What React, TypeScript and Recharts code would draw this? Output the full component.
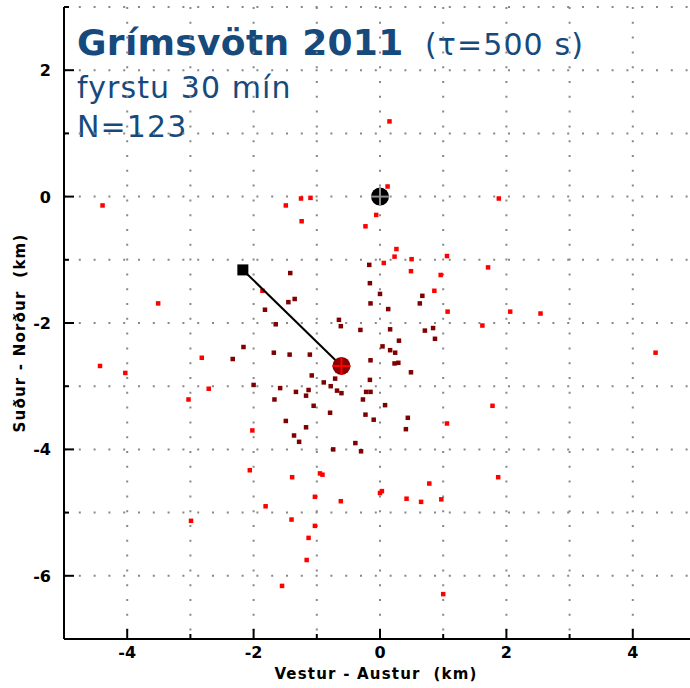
import React from 'react';
import { ScatterChart, Scatter, XAxis, YAxis, CartesianGrid } from 'recharts';

// map extent in km
const xTicks = [-5, -4, -3, -2, -1, 0, 1, 2, 3, 4, 5];
const yTicks = [-7, -6, -5, -4, -3, -2, -1, 0, 1, 2, 3];

// events shown in bright red (x east, y north, km)
const redEvents: [number, number][] = [
    [-4.39, -0.14], [-1.49, -0.14], [-1.25, -0.03], [-1.10, -0.02], [-1.24, -0.39],
    [-0.06, -0.29], [-0.23, -0.47], [-1.86, -1.49], [-3.51, -1.69], [0.15, 1.19],
    [0.12, 0.16], [1.88, -0.03], [0.26, -0.83], [0.23, -0.95], [0.50, -0.99],
    [0.06, -1.05], [1.06, -0.94], [1.71, -1.12], [0.49, -1.18], [0.96, -1.24],
    [0.86, -1.49], [1.07, -1.82], [2.06, -1.82], [2.54, -1.85], [1.62, -2.04],
    [4.36, -2.47], [1.78, -3.31], [1.06, -3.59], [1.87, -4.44], [0.78, -4.54],
    [0.03, -4.66], [0.00, -4.69], [0.42, -4.78], [0.65, -4.83], [0.97, -4.79],
    [1.00, -6.29], [-2.82, -2.55], [-4.43, -2.68], [-4.03, -2.79], [-2.71, -3.04],
    [-3.03, -3.21], [-2.02, -3.70], [-2.06, -4.33], [-1.39, -4.44], [-0.95, -4.38],
    [-0.91, -4.40], [-1.03, -4.75], [-0.62, -4.82], [-1.81, -4.90], [-2.99, -5.13],
    [-1.40, -5.11], [-1.03, -5.21], [-1.13, -5.40], [-1.16, -5.75], [-1.55, -6.16],
];

// events shown in dark red
const darkEvents: [number, number][] = [
    [-0.17, -1.08], [-0.16, -1.37], [0.00, -1.54], [-0.15, -1.69], [-1.42, -1.21],
    [-1.35, -1.62], [-1.45, -1.67], [-1.82, -1.79], [-1.65, -2.02], [-0.65, -1.95],
    [-0.62, -2.05], [-0.31, -2.11], [-2.16, -2.38], [0.67, -1.57], [0.63, -1.69],
    [0.13, -1.78], [0.16, -2.10], [0.71, -2.12], [0.84, -2.08], [0.30, -2.28],
    [0.87, -2.25], [0.04, -2.37], [0.16, -2.43], [0.24, -2.47], [-0.15, -2.59],
    [0.23, -2.64], [0.29, -2.63], [0.49, -2.78], [-0.16, -2.90], [-0.22, -3.09],
    [-0.15, -3.09], [0.08, -3.30], [-0.10, -3.53], [0.44, -3.50], [0.41, -3.68],
    [-2.33, -2.57], [-1.68, -2.47], [-1.43, -2.50], [-1.11, -2.50], [-1.08, -2.83],
    [-0.89, -2.94], [-0.71, -2.88], [-0.78, -3.00], [-2.00, -2.98], [-1.58, -3.03],
    [-1.33, -3.09], [-1.13, -3.06], [-0.68, -3.07], [-0.61, -3.11], [-1.67, -3.21],
    [-1.17, -3.15], [-0.27, -3.21], [-1.05, -3.31], [-0.79, -3.42], [-0.23, -3.45],
    [-1.49, -3.55], [-1.17, -3.65], [-1.36, -3.78], [-1.28, -3.88], [-0.39, -3.90],
    [-0.74, -4.00], [-0.30, -4.03],
];

const origin: [number, number] = [0, 0];
const trackStart: [number, number] = [-2.17, -1.16];
const centroid: [number, number] = [-0.61, -2.68];

const toPts = (arr: [number, number][]) => arr.map(([x, y]) => ({ x, y }));

const BLUE = '#174a7c';
const AXIS_FONT = '"DejaVu Sans", sans-serif';

const square = (size: number, fill: string) => (props: any) => (
    <rect x={props.cx - size / 2} y={props.cy - size / 2} width={size} height={size} fill={fill} />
);

const crossCircle = (fill: string, cross: string) => (props: any) => {
    const { cx, cy } = props;
    return (
        <g>
            <circle cx={cx} cy={cy} r={9} fill={fill} />
            <line x1={cx - 9} x2={cx + 9} y1={cy} y2={cy} stroke={cross} strokeWidth={2} />
            <line x1={cx} x2={cx} y1={cy - 9} y2={cy + 9} stroke={cross} strokeWidth={2} />
        </g>
    );
};

const BottomTick = (props: any) => {
    const { x, y, payload } = props;
    const v = payload.value;
    const major = v % 2 === 0;
    return (
        <g>
            <line x1={x} x2={x} y1={y} y2={y - (major ? 10 : 5)} stroke="#000" strokeWidth={2} />
            {major && (
                <text x={x} y={y + 19} textAnchor="middle" fontFamily={AXIS_FONT} fontSize={16} fontWeight="bold" fill="#000">
                    {v}
                </text>
            )}
        </g>
    );
};

const LeftTick = (props: any) => {
    const { x, y, payload } = props;
    const v = payload.value;
    const major = v % 2 === 0;
    return (
        <g>
            <line x1={x} x2={x + (major ? 10 : 5)} y1={y} y2={y} stroke="#000" strokeWidth={2} />
            {major && (
                <text x={x - 13} y={y + 6} textAnchor="end" fontFamily={AXIS_FONT} fontSize={16} fontWeight="bold" fill="#000">
                    {v}
                </text>
            )}
        </g>
    );
};

const TopTick = (props: any) => {
    const { x, y, payload } = props;
    if (payload.value % 2 !== 0) return <g />;
    return <line x1={x} x2={x} y1={y} y2={y + 12} stroke="#000" strokeWidth={2} />;
};

const RightTick = (props: any) => {
    const { x, y, payload } = props;
    if (payload.value % 2 !== 0) return <g />;
    return <line x1={x - 12} x2={x} y1={y} y2={y} stroke="#000" strokeWidth={2} />;
};

export default function App() {
    return (
        <div style={{ position: 'absolute', left: 0, top: 0, width: 690, height: 688, overflow: 'hidden', background: '#fff' }}>
            {/* titles sit under the chart so the grid dots run over them */}
            <svg width={690} height={688} style={{ position: 'absolute', left: 0, top: 0 }}>
                <text x={77} y={55} fontFamily={AXIS_FONT} fontSize={36} fontWeight="bold" letterSpacing={0.3} fill={BLUE}>
                    Grímsvötn 2011
                </text>
                <text x={425} y={55} fontFamily={AXIS_FONT} fontSize={30} letterSpacing={1.1} fill={BLUE}>
                    (τ=500 s)
                </text>
                <text x={77} y={98} fontFamily={AXIS_FONT} fontSize={30} letterSpacing={1.1} fill={BLUE}>
                    fyrstu 30 mín
                </text>
                <text x={77} y={137} fontFamily={AXIS_FONT} fontSize={30} letterSpacing={1.1} fill={BLUE}>
                    N=123
                </text>
                <text x={376} y={679} textAnchor="middle" fontFamily={AXIS_FONT} fontSize={15} fontWeight="bold" letterSpacing={1.2} fill="#000" style={{ whiteSpace: 'pre' }}>
                    {'Vestur - Austur  (km)'}
                </text>
                <text x={0} y={0} transform="translate(25 333) rotate(-90)" textAnchor="middle" fontFamily={AXIS_FONT} fontSize={15} fontWeight="bold" letterSpacing={1.2} fill="#000" style={{ whiteSpace: 'pre' }}>
                    {'Suður - Norður  (km)'}
                </text>
            </svg>
            <div style={{ position: 'absolute', left: 0, top: 0 }}>
                <ScatterChart width={700} height={688} margin={{ top: 7, right: 4, bottom: 0, left: 0 }}>
                    <CartesianGrid stroke="#888" strokeWidth={2} strokeDasharray="2 12.8" />
                    <XAxis
                        type="number" dataKey="x" domain={[-5, 5]} ticks={xTicks} interval={0}
                        allowDataOverflow height={49} tickSize={0} tickMargin={0}
                        axisLine={{ stroke: '#000', strokeWidth: 2 }} tickLine={false} tick={<BottomTick />}
                    />
                    <XAxis
                        xAxisId="top" orientation="top" type="number" dataKey="x" domain={[-5, 5]} ticks={xTicks}
                        interval={0} allowDataOverflow height={0} tickSize={0} tickMargin={0}
                        axisLine={{ stroke: '#000', strokeWidth: 2 }} tickLine={false} tick={<TopTick />}
                    />
                    <YAxis
                        type="number" dataKey="y" domain={[-7, 3]} ticks={yTicks} interval={0}
                        allowDataOverflow width={64} tickSize={0} tickMargin={0}
                        axisLine={{ stroke: '#000', strokeWidth: 2 }} tickLine={false} tick={<LeftTick />}
                    />
                    <YAxis
                        yAxisId="right" orientation="right" type="number" dataKey="y" domain={[-7, 3]} ticks={yTicks}
                        interval={0} allowDataOverflow width={0} tickSize={0} tickMargin={0}
                        axisLine={{ stroke: '#000', strokeWidth: 2 }} tickLine={false} tick={<RightTick />}
                    />
                    <Scatter data={toPts(redEvents)} shape={square(4.5, '#ff0000')} isAnimationActive={false} />
                    <Scatter data={toPts(darkEvents)} shape={square(4.5, '#7f0000')} isAnimationActive={false} />
                    <Scatter
                        data={toPts([trackStart, centroid])} line={{ stroke: '#000', strokeWidth: 2 }}
                        shape={() => <g />} isAnimationActive={false}
                    />
                    <Scatter data={toPts([trackStart])} shape={square(11, '#000')} isAnimationActive={false} />
                    <Scatter data={toPts([centroid])} shape={crossCircle('#8b0000', '#ff0000')} isAnimationActive={false} />
                    <Scatter data={toPts([origin])} shape={crossCircle('#000', '#8c8c8c')} isAnimationActive={false} />
                </ScatterChart>
            </div>
        </div>
    );
}
